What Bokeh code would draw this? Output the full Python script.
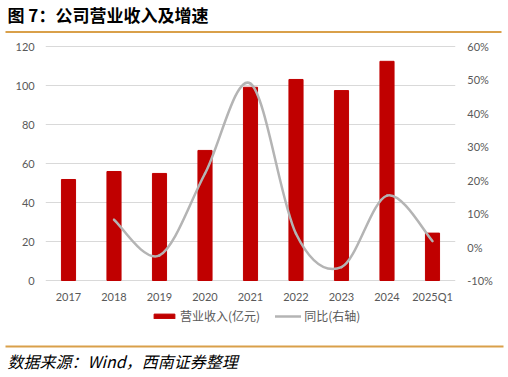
from bokeh.plotting import figure
from bokeh.models import (Range1d, LinearAxis, FixedTicker, PrintfTickFormatter,
                          Legend, LegendItem, Label, BoxAnnotation)
from bokeh.embed import file_html
from bokeh.resources import INLINE

# ---------------- data ----------------
categories = ["2017", "2018", "2019", "2020", "2021", "2022", "2023", "2024", "2025Q1"]
revenue = [51.8, 55.9, 54.9, 66.7, 99.1, 103.1, 97.4, 112.4, 24.3]          # 亿元
growth = [None, 8.2, -2.5, 22.0, 48.9, 4.0, -6.0, 15.4, 1.8]               # %
left_ticks = [0, 20, 40, 60, 80, 100, 120]
right_ticks = [-10, 0, 10, 20, 30, 40, 50, 60]

title_text = "图 7：公司营业收入及增速"
source_text = "数据来源：Wind，西南证券整理"
bar_label = "营业收入(亿元)"
line_label = "同比(右轴)"

# ---------------- layout (pixels on the canvas) ----------------
W, H = 508, 377
PX_L, PX_R = 45.25, 454.75        # plot area left / right edge
PX_T, PX_B = 46.0, 280.0          # plot area top / bottom edge
CJK = "Noto Sans CJK SC"
TICK_FONT = "Lato"
BAR_COLOR = "#C00000"
LINE_COLOR = "#B4B4B4"
GRID_COLOR = "#D9D9D9"
LABEL_COLOR = "#595959"
RULE_COLOR = "#D9A04A"

ncat = len(categories)


def full_range(v0, v1, p0, p1, size):
    """range whose values v0/v1 fall on canvas pixels p0/p1 (frame = whole canvas)"""
    k = (v1 - v0) / (p1 - p0)
    return Range1d(v0 - p0 * k, v1 + (size - p1) * k)


# y pixels measured from top: convert to from-bottom
x_range = full_range(0, ncat, PX_L, PX_R, W)
y_range = full_range(left_ticks[0], left_ticks[-1], H - PX_B, H - PX_T, H)
pct_range = full_range(right_ticks[0], right_ticks[-1], H - PX_B, H - PX_T, H)

p = figure(width=W, height=H, x_range=x_range, y_range=y_range, title=None,
           output_backend="svg", toolbar_location=None, min_border=0)
p.extra_y_ranges = {"pct": pct_range}
p.outline_line_color = None
p.grid.visible = False

# horizontal gridlines at the left-axis ticks, across the plot area
p.segment(x0=[0] * len(left_ticks), x1=[ncat] * len(left_ticks),
          y0=left_ticks, y1=left_ticks, line_color=GRID_COLOR, line_width=1)

xs = [i + 0.5 for i in range(ncat)]
bars = p.vbar(x=xs, top=revenue, width=0.31, fill_color=BAR_COLOR, line_color=BAR_COLOR)

# smoothed line (Excel style cubic Bezier through the data points)
pts = [(x, g) for x, g in zip(xs, growth) if g is not None]
bx0, by0, bx1, by1, cx0, cy0, cx1, cy1 = ([] for _ in range(8))
n = len(pts)
for k in range(n - 1):
    P0 = pts[k - 1] if k > 0 else pts[k]
    P1 = pts[k]
    P2 = pts[k + 1]
    P3 = pts[k + 2] if k + 2 < n else pts[k + 1]
    bx0.append(P1[0]); by0.append(P1[1])
    bx1.append(P2[0]); by1.append(P2[1])
    cx0.append(P1[0] + (P2[0] - P0[0]) / 6); cy0.append(P1[1] + (P2[1] - P0[1]) / 6)
    cx1.append(P2[0] - (P3[0] - P1[0]) / 6); cy1.append(P2[1] - (P3[1] - P1[1]) / 6)
curve = p.bezier(x0=bx0, y0=by0, x1=bx1, y1=by1, cx0=cx0, cy0=cy0, cx1=cx1, cy1=cy1,
                 y_range_name="pct", line_color=LINE_COLOR, line_width=2.5,
                 line_cap="round")

# axes, pinned to the plot-area edges
xa = p.xaxis[0]
xa.fixed_location = left_ticks[0]
xa.ticker = FixedTicker(ticks=xs)
xa.major_label_overrides = {x: c for x, c in zip(xs, categories)}
xa.major_label_standoff = 9

ya = p.yaxis[0]
ya.fixed_location = 0
ya.ticker = FixedTicker(ticks=left_ticks)
ya.major_label_standoff = 11

ra = LinearAxis(y_range_name="pct", ticker=FixedTicker(ticks=right_ticks),
                formatter=PrintfTickFormatter(format="%d%%"), fixed_location=ncat)
ra.major_label_standoff = 12
p.add_layout(ra, "right")

for ax in p.axis:
    ax.axis_line_color = None
    ax.major_tick_line_color = None
    ax.minor_tick_line_color = None
    ax.major_tick_out = 0
    ax.major_tick_in = 0
    ax.major_label_text_font = TICK_FONT
    ax.major_label_text_font_size = "11px"
    ax.major_label_text_color = LABEL_COLOR

# legend under the axis labels (screen px from the canvas bottom-left)
legend = Legend(items=[LegendItem(label=bar_label, renderers=[bars], index=0),
                       LegendItem(label=line_label, renderers=[curve], index=0)],
                orientation="horizontal", location=(151, H - 324),
                border_line_color=None, background_fill_alpha=0,
                label_text_font=CJK, label_text_font_size="12px",
                label_text_color=LABEL_COLOR, glyph_width=26, glyph_height=6,
                label_height=16, label_standoff=3, spacing=15, padding=0, margin=0)
p.add_layout(legend)

# header / footer texts and rules
p.add_layout(Label(x=7, y=H - 13.5, x_units="screen", y_units="screen",
                   text=title_text, text_font=CJK, text_font_style="bold",
                   text_font_size="17px", text_baseline="middle", text_color="#000000"))
p.add_layout(BoxAnnotation(left=5, right=501, bottom=H - 32.5, top=H - 30.5,
                           left_units="screen", right_units="screen",
                           bottom_units="screen", top_units="screen",
                           fill_color=RULE_COLOR, fill_alpha=1, line_color=None))
p.add_layout(BoxAnnotation(left=5, right=503, bottom=H - 347, top=H - 345,
                           left_units="screen", right_units="screen",
                           bottom_units="screen", top_units="screen",
                           fill_color=RULE_COLOR, fill_alpha=1, line_color=None))
p.add_layout(Label(x=7, y=H - 360.5, x_units="screen", y_units="screen",
                   text=source_text, text_font=CJK, text_font_style="italic",
                   text_font_size="16px", text_baseline="middle", text_color="#000000"))

open("out.html", "w").write(file_html(p, INLINE))
